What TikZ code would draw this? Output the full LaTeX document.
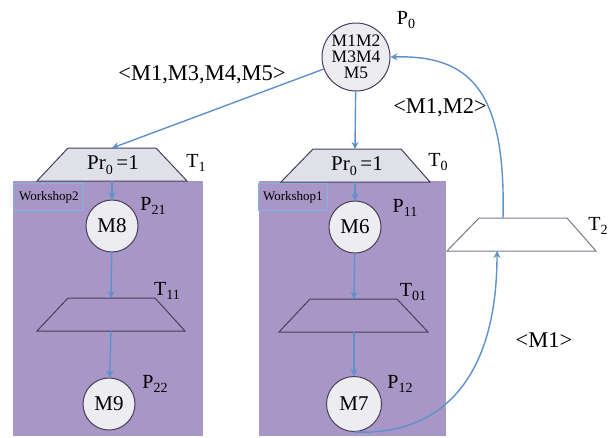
\documentclass[tikz,border=0pt]{standalone}
\usepackage{fontspec}
\setmainfont{Liberation Serif}
\usetikzlibrary{arrows.meta}
\definecolor{flow}{RGB}{95,145,205}
\definecolor{shop}{RGB}{168,150,198}
\definecolor{ink}{RGB}{72,62,92}
\definecolor{disc}{RGB}{236,236,241}
\definecolor{tfill}{RGB}{224,225,232}
\definecolor{tagline}{RGB}{130,180,225}
% label with a lowered index, e.g. P_0, T_11
\newcommand\idx[2]{#1\raisebox{-0.45ex}{\fontsize{14}{14}\selectfont #2}}
\begin{document}
\begin{tikzpicture}[x=1pt,y=-1pt,
  place/.style={circle,draw=ink,line width=1pt,fill=disc,minimum size=52pt,
    inner sep=0pt,font=\fontsize{21}{23}\selectfont},
  trans/.style={draw=ink,line width=1pt,line join=miter},
  flowline/.style={draw=flow,line width=1.4pt},
  flowarrow/.style={flowline,-{Stealth[length=7pt,width=7pt]}},
  lbl/.style={font=\fontsize{20}{22}\selectfont,inner sep=0pt},
  msg/.style={font=\fontsize{22.5}{24}\selectfont,inner sep=0pt},
  tag/.style={draw=tagline,line width=0.8pt,anchor=north west,inner sep=0pt,
    minimum width=69pt,minimum height=27pt,font=\fontsize{13}{15}\selectfont},
  trtext/.style={font=\fontsize{21}{23}\selectfont,inner sep=0pt}
]
\useasboundingbox (0,0) rectangle (609,437);
\fill[white] (0,0) rectangle (609,437);

% workshop areas
\fill[shop] (13,181) rectangle (203,436);
\fill[shop] (259,181) rectangle (446,436);
\node[tag] (ws2) at (14,183) {Workshop2};
\node[tag] (ws1) at (258,183) {Workshop1};

% transitions (trapezoids) and their connection points
\draw[trans,fill=tfill] (37,181) -- (68,148) -- (156,148) -- (187,181) -- cycle;
\draw[trans,fill=tfill] (281,182) -- (313,149) -- (401,149) -- (430,182) -- cycle;
\draw[trans] (37,331) -- (68,298) -- (155,298) -- (185,331) -- cycle;
\draw[trans] (279,332) -- (310,299) -- (397,299) -- (428,332) -- cycle;
\draw[draw=ink!70,line width=1pt,fill=white] (447,251) -- (479,218) -- (567,218) -- (596,251) -- cycle;

\coordinate (T1top) at (112,148);
\coordinate (T1bot) at (112,181);
\coordinate (T0top) at (355,149);
\coordinate (T0bot) at (355,182);
\coordinate (T11top) at (111,298);
\coordinate (T11bot) at (111,331);
\coordinate (T01top) at (354,299);
\coordinate (T01bot) at (354,332);
\coordinate (T2top) at (503,218);
\coordinate (T2bot) at (497,251);

\node[trtext] (pr1) at (113,165) {Pr\raisebox{-0.45ex}{\fontsize{14}{14}\selectfont 0}\,=1};
\node[trtext] (pr0) at (357,166) {Pr\raisebox{-0.45ex}{\fontsize{14}{14}\selectfont 0}\,=1};

% places
\node[place,minimum size=68pt,font=\fontsize{17.5}{16}\selectfont,align=center]
  (P0) at (356,57) {M1M2\\M3M4\\M5};
\node[place] (M8) at (112,226) {M8};
\node[place] (M9) at (109,404) {M9};
\node[place] (M6) at (355,227) {M6};
\node[place,minimum size=55pt] (M7) at (354,404) {M7};

% labels
\node[lbl] (lP0) at (406,20) {\idx{P}{0}};
\node[lbl] (lT1) at (196,163) {\idx{T}{1}};
\node[lbl] (lT0) at (438,162) {\idx{T}{0}};
\node[lbl] (lP21) at (153,206) {\idx{P}{21}};
\node[lbl] (lP11) at (405,208) {\idx{P}{11}};
\node[lbl] (lT11) at (167,291) {\idx{T}{11}};
\node[lbl] (lT01) at (413,292) {\idx{T}{01}};
\node[lbl] (lP22) at (155,384) {\idx{P}{22}};
\node[lbl] (lP12) at (400,384) {\idx{P}{12}};
\node[lbl] (lT2) at (598,226) {\idx{T}{2}};

\node[msg] (m1345) at (202,75) {<M1,M3,M4,M5>};
\node[msg] (m12) at (440,108) {<M1,M2>};
\node[msg] (m1) at (544,340) {<M1>};

% token flow
\draw[flowarrow] (P0) -- (T1top);
\draw[flowarrow] (P0) -- (T0top);
\draw[flowarrow] (T1bot) -- (M8);
\draw[flowarrow] (T0bot) -- (M6);
\draw[flowarrow] (M8) -- (T11top);
\draw[flowarrow] (M6) -- (T01top);
\draw[flowarrow] (T11bot) -- (M9);
\draw[flowarrow] (T01bot) -- (M7);
\draw[flowarrow] (M7.south) .. controls (440,436) and (497,380) .. (T2bot);
\draw[flowarrow] (T2top) .. controls (506,90) and (470,55) .. (P0.east);
\end{tikzpicture}
\end{document}
